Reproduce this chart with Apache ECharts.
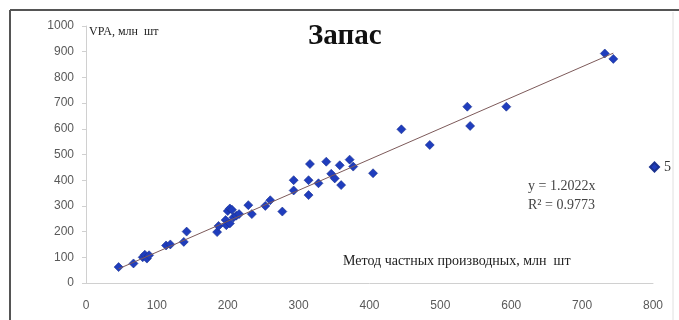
<!DOCTYPE html>
<html>
<head>
<meta charset="utf-8">
<script src="https://cdn.jsdelivr.net/npm/echarts@6/dist/echarts.min.js"></script>
<style>
html,body{margin:0;padding:0;background:#fff;}
#c{width:679px;height:320px;}
</style>
</head>
<body>
<div id="c"></div>
<script>
// ---- data ----
const xTicks = [0, 100, 200, 300, 400, 500, 600, 700, 800];
const yTicks = [0, 100, 200, 300, 400, 500, 600, 700, 800, 900, 1000];
const xValues = [46, 67, 80, 83, 86, 89, 113, 119, 138, 142, 185, 187, 197, 200, 203, 206, 198, 203, 208, 212, 216, 229, 234, 253, 260, 277, 293, 293, 314, 316, 314, 328, 339, 346, 351, 358, 360, 372, 377, 405, 445, 485, 538, 542, 593, 732, 744];
const yValues = [62, 76, 100, 110, 95, 108, 146, 150, 160, 200, 198, 222, 245, 280, 290, 285, 225, 232, 255, 262, 268, 303, 268, 300, 322, 278, 400, 360, 342, 463, 400, 388, 472, 425, 407, 458, 381, 480, 453, 427, 598, 537, 686, 611, 686, 893, 872];
const trendSlope = 1.2022;
const rSquared = 0.9773;
const seriesName = '5';

const points = xValues.map((x, i) => [x, yValues[i]]);
const xMin = Math.min(...xValues), xMax = Math.max(...xValues);
const trend = [[xMin, trendSlope * xMin], [xMax, trendSlope * xMax]];

const chart = echarts.init(document.getElementById('c'), null, {renderer: 'canvas'});
const labelFont = {fontFamily: 'Liberation Sans', fontSize: 12, color: '#595959'};
chart.setOption({
  animation: false,
  backgroundColor: '#fff',
  grid: {left: 86, right: 26, top: 26, bottom: 37},
  xAxis: {
    type: 'value', min: xTicks[0], max: xTicks[xTicks.length - 1], interval: 100,
    axisLine: {show: true, lineStyle: {color: '#d0d0d0', width: 1}},
    axisTick: {show: false},
    splitLine: {show: false},
    axisLabel: Object.assign({margin: 17, formatter: v => String(v)}, labelFont)
  },
  yAxis: {
    type: 'value', min: yTicks[0], max: yTicks[yTicks.length - 1], interval: 100,
    axisLine: {show: true, lineStyle: {color: '#d0d0d0', width: 1}},
    axisTick: {show: true, length: 4, inside: false, lineStyle: {color: '#d0d0d0'}},
    splitLine: {show: false},
    axisLabel: Object.assign({margin: 12, formatter: v => String(v)}, labelFont)
  },
  legend: {
    data: [{name: seriesName, icon: 'diamond'}],
    left: 644, top: 155, itemWidth: 9, itemHeight: 9, itemGap: 4,
    textStyle: {fontFamily: 'Liberation Serif', fontSize: 14, color: '#333'}
  },
  series: [
    {
      name: seriesName, type: 'scatter', symbol: 'diamond', symbolSize: 9,
      data: points,
      itemStyle: {color: '#1f3dbd', borderColor: '#1a318f', borderWidth: 0.6, opacity: 1}
    },
    {
      name: 'trend', type: 'line', data: trend, symbol: 'none', silent: true,
      lineStyle: {color: '#7d5a5a', width: 1},
      z: 3
    }
  ],
  graphic: [
    {type: 'line', shape: {x1: 10, y1: 10, x2: 679, y2: 10}, style: {stroke: '#555', lineWidth: 2}},
    {type: 'line', shape: {x1: 10, y1: 10, x2: 10, y2: 320}, style: {stroke: '#555', lineWidth: 2}},
    {type: 'line', shape: {x1: 673, y1: 12, x2: 673, y2: 320}, style: {stroke: '#e0e0e0', lineWidth: 1}},
    {type: 'text', left: 308, top: 22, style: {text: 'Запас', font: 'bold 29px "Liberation Serif"', fill: '#111'}},
    {type: 'text', left: 89, top: 26, style: {text: 'VPA, млн  шт', font: '12px "Liberation Serif"', fill: '#222'}},
    {type: 'text', left: 343, top: 254, style: {text: 'Метод частных производных, млн  шт', font: '14px "Liberation Serif"', fill: '#222'}},
    {type: 'text', left: 528, top: 179, style: {text: 'y = ' + trendSlope.toFixed(4) + 'x', font: '14px "Liberation Serif"', fill: '#444'}},
    {type: 'text', left: 528, top: 198, style: {text: 'R² = ' + rSquared.toFixed(4), font: '14px "Liberation Serif"', fill: '#444'}}
  ]
});
</script>
</body>
</html>
